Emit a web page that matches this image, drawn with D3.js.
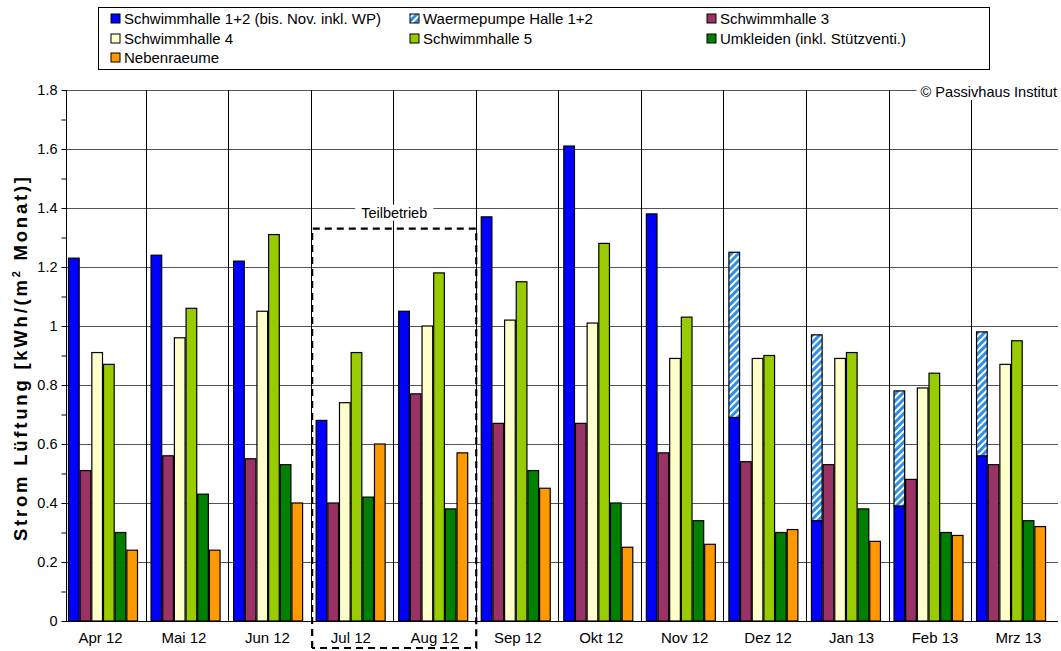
<!DOCTYPE html>
<html><head><meta charset="utf-8">
<script src="https://cdn.jsdelivr.net/npm/d3@7"></script>
<style>body{margin:0;background:#fff}svg{display:block;font-family:"Liberation Sans",Arial,sans-serif}</style>
</head><body><svg id="c" width="1061" height="651"></svg>
<script>
const categories = ["Apr 12","Mai 12","Jun 12","Jul 12","Aug 12","Sep 12","Okt 12","Nov 12","Dez 12","Jan 13","Feb 13","Mrz 13"];
const sh12 = [1.23,1.24,1.22,0.68,1.05,1.37,1.61,1.38,0.69,0.34,0.39,0.56];
const wp   = [0,0,0,0,0,0,0,0,0.56,0.63,0.39,0.42];
const sh3  = [0.51,0.56,0.55,0.40,0.77,0.67,0.67,0.57,0.54,0.53,0.48,0.53];
const sh4  = [0.91,0.96,1.05,0.74,1.00,1.02,1.01,0.89,0.89,0.89,0.79,0.87];
const sh5  = [0.87,1.06,1.31,0.91,1.18,1.15,1.28,1.03,0.90,0.91,0.84,0.95];
const umk  = [0.30,0.43,0.53,0.42,0.38,0.51,0.40,0.34,0.30,0.38,0.30,0.34];
const neb  = [0.24,0.24,0.40,0.60,0.57,0.45,0.25,0.26,0.31,0.27,0.29,0.32];
const yTicks = [0,0.2,0.4,0.6,0.8,1,1.2,1.4,1.6,1.8];
const legendNames = ["Schwimmhalle 1+2 (bis. Nov. inkl. WP)","Waermepumpe Halle 1+2","Schwimmhalle 3","Schwimmhalle 4","Schwimmhalle 5","Umkleiden (inkl. Stützventi.)","Nebenraeume"];
const teilLabel = "Teilbetrieb";
const teilTop = 1.33;

const colors = {sh12:"#0000FF", sh3:"#993366", sh4:"#FFFFCC", sh5:"#99CC00", umk:"#008000", neb:"#FF9900"};
const FF = "'Liberation Sans',Arial,sans-serif";

const svg = d3.select("#c");
const defs = svg.append("defs");
const pat = defs.append("pattern").attr("id","hatch").attr("patternUnits","userSpaceOnUse")
  .attr("width",5).attr("height",5).attr("patternTransform","rotate(45)");
pat.append("rect").attr("width",5).attr("height",5).attr("fill","#fff");
pat.append("rect").attr("width",3).attr("height",5).attr("fill","#2F8FE6");

const L = 66, R = 1058, T = 90, B = 621;
const y = d3.scaleLinear().domain([0,1.8]).range([B,T]);
const x = d3.scaleBand().domain(categories).range([L, L+12*82.55]).padding(0);
const sub = d3.scaleBand().domain(d3.range(6)).range([2,72]).padding(0);
const xl = d3.scalePoint().domain(categories).range([100.5, 1018.5]);

function labelWithBg(sel, pad){
  const bg = sel.append("rect").attr("fill","#fff");
  return (t)=>{ const b=t.node().getBBox(); bg.attr("x",b.x-pad).attr("y",b.y).attr("width",b.width+2*pad).attr("height",b.height); };
}

// horizontal gridlines
svg.append("g").selectAll("line").data(yTicks.filter(d=>d>0)).join("line")
  .attr("x1",L).attr("x2",R).attr("y1",d=>Math.round(y(d))+0.5).attr("y2",d=>Math.round(y(d))+0.5)
  .attr("stroke","#555").attr("stroke-width",1);
// vertical category lines
svg.append("g").selectAll("line").data(categories.slice(1)).join("line")
  .attr("x1",d=>Math.round(x(d)-3)+0.5).attr("x2",d=>Math.round(x(d)-3)+0.5)
  .attr("y1",T).attr("y2",B).attr("stroke","#000").attr("stroke-width",1);

// y axis
const yAxis = d3.axisLeft(y).tickValues(d3.range(0,19).map(i=>i/10)).tickSize(5)
  .tickFormat(d => yTicks.some(t=>Math.abs(t-d)<1e-9) ? d3.format("~g")(+d.toFixed(1)) : "");
const ga = svg.append("g").attr("transform",`translate(${L+0.5},0)`).call(yAxis);
ga.attr("font-size",null).attr("font-family",null);
ga.select(".domain").attr("stroke","#000").attr("d",`M0,${T}V${B}`);
ga.selectAll(".tick line").attr("stroke","#000");
ga.selectAll(".tick text").attr("fill","#000").attr("x",-9)
  .style("font-size","14.5px").style("font-family",FF);

// bars
const series = [
  {vals:sh12, fill:colors.sh12, idx:0},
  {vals:sh3, fill:colors.sh3, idx:1},
  {vals:sh4, fill:colors.sh4, idx:2},
  {vals:sh5, fill:colors.sh5, idx:3},
  {vals:umk, fill:colors.umk, idx:4},
  {vals:neb, fill:colors.neb, idx:5}
];
const gb = svg.append("g");
series.forEach(s=>{
  gb.append("g").selectAll("rect").data(categories).join("rect")
    .attr("x",(c)=>x(c)+sub(s.idx)+0.5)
    .attr("y",(c,i)=>y(s.vals[i]))
    .attr("width",sub.bandwidth()-1)
    .attr("height",(c,i)=>y(0)-y(s.vals[i]))
    .attr("fill",s.fill).attr("stroke","#000").attr("stroke-width",1.2);
});
// stacked heat pump
gb.append("g").selectAll("rect").data(categories.filter((c,i)=>wp[i]>0)).join("rect")
  .attr("x",c=>x(c)+sub(0)+0.5)
  .attr("y",c=>{const i=categories.indexOf(c);return y(sh12[i]+wp[i]);})
  .attr("width",sub.bandwidth()-1)
  .attr("height",c=>{const i=categories.indexOf(c);return y(sh12[i])-y(sh12[i]+wp[i]);})
  .attr("fill","url(#hatch)").attr("stroke","#000").attr("stroke-width",1.2);

// x axis line
svg.append("line").attr("x1",L).attr("x2",R).attr("y1",B+0.5).attr("y2",B+0.5).attr("stroke","#000");
// x labels
svg.append("g").selectAll("text").data(categories).join("text")
  .attr("x",c=>xl(c)).attr("y",B+22).attr("text-anchor","middle")
  .style("font-size","15px").attr("fill","#000").text(c=>c);

// Teilbetrieb box
const bx1 = x("Jul 12")-1.5, bx2 = x("Sep 12")-2.5, by1 = y(teilTop), by2 = 648;
svg.append("path").attr("d",`M${bx1},${by2}V${by1}H${bx2}V${by2}H${bx1}`)
  .attr("fill","none").attr("stroke","#000").attr("stroke-width",2.2).attr("stroke-dasharray","7,5");
const fitT = labelWithBg(svg, 6);
const tl = svg.append("text").attr("x",(bx1+bx2)/2).attr("y",by1-11).attr("text-anchor","middle")
  .style("font-size","14.5px").attr("fill","#000").text(teilLabel);
fitT(tl);

// copyright
const fitC = labelWithBg(svg, 4);
const cp = svg.append("text").attr("x",1057).attr("y",97).attr("text-anchor","end")
  .style("font-size","14.6px").attr("fill","#000").text("© Passivhaus Institut");
fitC(cp);

// y title
const yt = svg.append("text").attr("transform","translate(27,359) rotate(-90)").attr("text-anchor","middle")
  .style("font-size","18.5px").attr("font-weight","bold").attr("fill","#000")
  .attr("textLength",364).attr("lengthAdjust","spacing");
yt.append("tspan").text("Strom Lüftung [kWh/(m");
yt.append("tspan").style("font-size","11px").attr("dy",-7).text("2");
yt.append("tspan").attr("dy",7).text(" Monat)]");

// legend
svg.append("rect").attr("x",98.5).attr("y",7.5).attr("width",891).attr("height",62)
  .attr("fill","#fff").attr("stroke","#000").attr("stroke-width",1);
const legFills = [colors.sh12,"url(#hatch)",colors.sh3,colors.sh4,colors.sh5,colors.umk,colors.neb];
const colX = [111,410,707], rowY = [19,39,58];
const lg = svg.append("g").selectAll("g").data(legendNames).join("g")
  .attr("transform",(d,i)=>`translate(${colX[i%3]},${rowY[Math.floor(i/3)]})`);
lg.append("rect").attr("x",0).attr("y",-5).attr("width",9).attr("height",9)
  .attr("fill",(d,i)=>legFills[i]).attr("stroke","#000").attr("stroke-width",1);
lg.append("text").attr("x",13).attr("y",5).style("font-size","15px").attr("fill","#000").text(d=>d);
</script></body></html>
